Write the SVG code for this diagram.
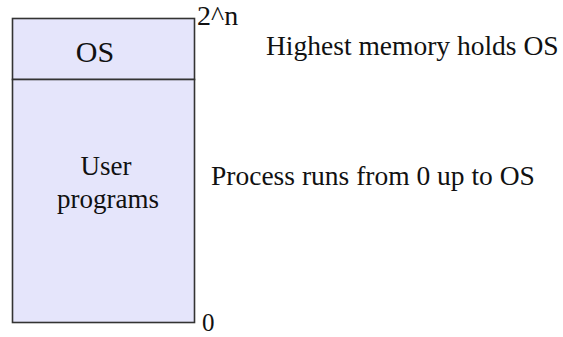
<svg xmlns="http://www.w3.org/2000/svg" width="563" height="337" viewBox="0 0 563 337">
  <style>
    .seg { fill: #e5e5fb; stroke: #333333; stroke-width: 1.6; }
    .t { font-family: "Liberation Serif", "Times New Roman", serif; fill: #111111; }
  </style>
  <rect width="563" height="337" fill="#ffffff"/>
  <!-- memory column: OS on top, user programs below -->
  <g id="os-region">
    <rect class="seg" x="12.5" y="18.5" width="182" height="61"/>
    <text class="t" x="95" y="62" font-size="30" text-anchor="middle">OS</text>
  </g>
  <g id="user-region">
    <rect class="seg" x="12.5" y="79.5" width="182" height="243"/>
    <text class="t" x="106" y="175" font-size="27" text-anchor="middle">User</text>
    <text class="t" x="108" y="208" font-size="27" text-anchor="middle">programs</text>
  </g>
  <!-- address bounds -->
  <g id="address-labels">
    <text class="t" x="197" y="25" font-size="28">2^n</text>
    <text class="t" x="202" y="331" font-size="25">0</text>
  </g>
  <!-- notes -->
  <g id="notes">
    <text class="t" x="266" y="55" font-size="27.5">Highest memory holds OS</text>
    <text class="t" x="211" y="185" font-size="27.5">Process runs from 0 up to OS</text>
  </g>
</svg>
